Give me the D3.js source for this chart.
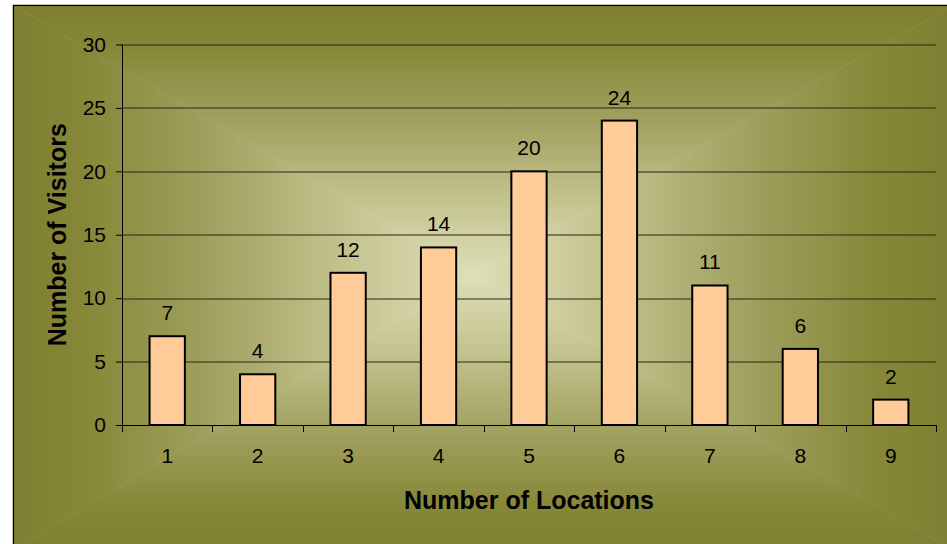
<!DOCTYPE html>
<html>
<head>
<meta charset="utf-8">
<script src="https://cdn.jsdelivr.net/npm/d3@7"></script>
<style>
  html, body { margin: 0; padding: 0; background: #fff; }
  svg { display: block; font-family: "Liberation Sans", Arial, sans-serif; }
</style>
</head>
<body>
<div class="chart"></div>
<script>
// chart data
var locations = ["1", "2", "3", "4", "5", "6", "7", "8", "9"];
var visitors = [7, 4, 12, 14, 20, 24, 11, 6, 2];
var yTicks = [0, 5, 10, 15, 20, 25, 30];

var svgWidth = 947;
var svgHeight = 544;

// outer chart box (its right and bottom edge run off the picture)
var box = { x: 13, y: 5, w: 940, h: 545 };

var margin = { top: 44.5, right: 11, bottom: 119, left: 122 };
var width = svgWidth - margin.left - margin.right;
var height = svgHeight - margin.top - margin.bottom;

var svg = d3.select(".chart")
  .append("svg")
  .attr("width", svgWidth)
  .attr("height", svgHeight);

// rectangular "from centre" gradient: four triangles, each with a linear gradient edge -> centre
var defs = svg.append("defs");
var cx = box.x + box.w / 2 - 10, cy = box.y + 270;
var stops = [
  { o: 0, c: "#7f7f33" },
  { o: 0.16, c: "#878738" },
  { o: 0.45, c: "#a3a363" },
  { o: 0.75, c: "#c6c693" },
  { o: 1, c: "#dedeb9" }
];
var sides = [
  { id: "gTop", x1: 0, y1: box.y, x2: 0, y2: cy,
    pts: [[box.x, box.y], [box.x + box.w, box.y], [cx, cy]] },
  { id: "gBottom", x1: 0, y1: box.y + box.h, x2: 0, y2: cy,
    pts: [[box.x, box.y + box.h], [box.x + box.w, box.y + box.h], [cx, cy]] },
  { id: "gLeft", x1: box.x, y1: 0, x2: cx, y2: 0,
    pts: [[box.x, box.y], [box.x, box.y + box.h], [cx, cy]] },
  { id: "gRight", x1: box.x + box.w, y1: 0, x2: cx, y2: 0,
    pts: [[box.x + box.w, box.y], [box.x + box.w, box.y + box.h], [cx, cy]] }
];
sides.forEach(function(s) {
  var g = defs.append("linearGradient")
    .attr("id", s.id)
    .attr("gradientUnits", "userSpaceOnUse")
    .attr("x1", s.x1).attr("y1", s.y1).attr("x2", s.x2).attr("y2", s.y2);
  stops.forEach(function(st) {
    g.append("stop").attr("offset", st.o).attr("stop-color", st.c);
  });
  svg.append("polygon")
    .attr("points", s.pts.map(function(p) { return p.join(","); }).join(" "))
    .attr("fill", "url(#" + s.id + ")")
    .attr("stroke", "url(#" + s.id + ")")
    .attr("stroke-width", 0.6);
});

svg.append("rect")
  .attr("x", box.x + 0.5).attr("y", box.y + 0.5)
  .attr("width", box.w).attr("height", box.h)
  .attr("fill", "none")
  .attr("stroke", "#000")
  .attr("stroke-width", 1.2);

var chartGroup = svg.append("g")
  .attr("transform", `translate(${margin.left}, ${margin.top})`);

// scales
var xScale = d3.scaleBand()
  .domain(locations)
  .range([0, width])
  .padding(0);

var yScale = d3.scaleLinear()
  .domain([0, 30])
  .range([height, 0]);

// gridlines
chartGroup.append("g")
  .selectAll("line")
  .data(yTicks.filter(function(d) { return d > 0; }))
  .join("line")
  .attr("x1", 0)
  .attr("x2", width)
  .attr("y1", function(d) { return Math.round(yScale(d)) + 0.5; })
  .attr("y2", function(d) { return Math.round(yScale(d)) + 0.5; })
  .attr("stroke", "#262615")
  .attr("stroke-width", 1.2);

// y axis
var yAxis = chartGroup.append("g")
  .call(d3.axisLeft(yScale).tickValues(yTicks).tickSize(6).tickPadding(10));
yAxis.select(".domain").attr("stroke", "#000").attr("d", `M0.5,0V${height}`);
yAxis.selectAll(".tick line").attr("stroke", "#000");
yAxis.selectAll(".tick text")
  .attr("fill", "#000")
  .style("font-size", "21px")
  .style("font-family", "Liberation Sans, Arial, sans-serif");

// x axis, ticks sit on the category boundaries
var xAxis = chartGroup.append("g")
  .attr("transform", `translate(0, ${height})`)
  .call(d3.axisBottom(xScale).tickSize(0).tickPadding(23));
xAxis.select(".domain").attr("stroke", "#000").attr("d", `M0,0.5H${width}`);
xAxis.selectAll(".tick text")
  .attr("fill", "#000")
  .style("font-size", "21px")
  .style("font-family", "Liberation Sans, Arial, sans-serif");
xAxis.append("g")
  .selectAll("line")
  .data(locations.concat(["end"]))
  .join("line")
  .attr("x1", function(d, i) { return Math.round(i * xScale.step()) + 0.5; })
  .attr("x2", function(d, i) { return Math.round(i * xScale.step()) + 0.5; })
  .attr("y1", 0)
  .attr("y2", 7)
  .attr("stroke", "#000");

// bars
var barFrac = 0.39;
var barW = xScale.bandwidth() * barFrac;
chartGroup.append("g")
  .selectAll("rect")
  .data(visitors)
  .join("rect")
  .attr("x", function(d, i) { return xScale(locations[i]) + (xScale.bandwidth() - barW) / 2; })
  .attr("y", function(d) { return yScale(d); })
  .attr("width", barW)
  .attr("height", function(d) { return height - yScale(d); })
  .attr("fill", "#ffcc99")
  .attr("stroke", "#000")
  .attr("stroke-width", 2);

// value labels
chartGroup.append("g")
  .selectAll("text")
  .data(visitors)
  .join("text")
  .attr("x", function(d, i) { return xScale(locations[i]) + xScale.bandwidth() / 2; })
  .attr("y", function(d) { return yScale(d) - 16; })
  .attr("text-anchor", "middle")
  .style("font-size", "21px")
  .text(function(d) { return d; });

// axis titles
svg.append("text")
  .attr("x", margin.left + width / 2)
  .attr("y", 509)
  .attr("text-anchor", "middle")
  .style("font-size", "25px")
  .style("font-weight", "bold")
  .text("Number of Locations");

svg.append("text")
  .attr("transform", `translate(66, ${margin.top + height / 2}) rotate(-90)`)
  .attr("text-anchor", "middle")
  .style("font-size", "25px")
  .style("font-weight", "bold")
  .text("Number of Visitors");
</script>
</body>
</html>
